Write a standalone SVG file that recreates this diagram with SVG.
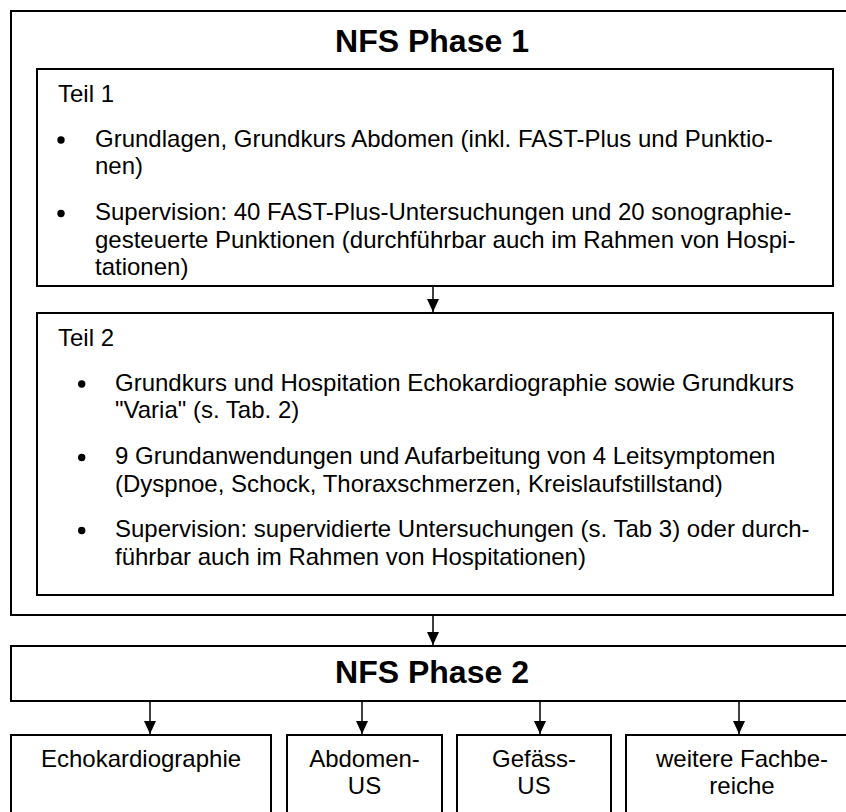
<svg xmlns="http://www.w3.org/2000/svg" width="846" height="812" viewBox="0 0 846 812">
<defs>
<style>
.box{fill:#fff;stroke:#000;stroke-width:2}
.t{font-family:"Liberation Sans",Arial,sans-serif;font-size:24px;fill:#000}
.h{font-family:"Liberation Sans",Arial,sans-serif;font-size:32px;font-weight:bold;fill:#000}
.c{text-anchor:middle}
.ln{stroke:#000;stroke-width:1.5;fill:none}
.dot{fill:#000}
</style>
<marker id="ah" markerWidth="13" markerHeight="12" refX="13" refY="6" orient="auto" markerUnits="userSpaceOnUse" viewBox="0 0 13 12">
<path d="M0,0 L13,6 L0,12 Z" fill="#000"/>
</marker>
</defs>
<rect width="846" height="812" fill="#fff"/>
<g id="phase1">
<rect class="box" x="11" y="11" width="860" height="604"/>
<text class="h c" x="432" y="52">NFS Phase 1</text>
</g>
<g id="teil1">
<rect class="box" x="37" y="69" width="796" height="217"/>
<text class="t" x="58" y="101.5">Teil 1</text>
<circle class="dot" cx="61" cy="140" r="3.7"/>
<text class="t" x="95" y="146.5">Grundlagen, Grundkurs Abdomen (inkl. FAST-Plus und Punktio-</text>
<text class="t" x="95" y="174">nen)</text>
<circle class="dot" cx="61" cy="213.5" r="3.7"/>
<text class="t" x="95" y="220">Supervision: 40 FAST-Plus-Untersuchungen und 20 sonographie-</text>
<text class="t" x="95" y="247.5">gesteuerte Punktionen (durchführbar auch im Rahmen von Hospi-</text>
<text class="t" x="95" y="275">tationen)</text>
</g>
<g id="teil2">
<rect class="box" x="37" y="313" width="796" height="282"/>
<text class="t" x="58" y="346">Teil 2</text>
<circle class="dot" cx="81.7" cy="384" r="3.7"/>
<text class="t" x="115" y="390.5">Grundkurs und Hospitation Echokardiographie sowie Grundkurs</text>
<text class="t" x="115" y="418">"Varia" (s. Tab. 2)</text>
<circle class="dot" cx="81.7" cy="457.5" r="3.7"/>
<text class="t" x="115" y="464">9 Grundanwendungen und Aufarbeitung von 4 Leitsymptomen</text>
<text class="t" x="115" y="491.5">(Dyspnoe, Schock, Thoraxschmerzen, Kreislaufstillstand)</text>
<circle class="dot" cx="81.7" cy="530.5" r="3.7"/>
<text class="t" x="115" y="537">Supervision: supervidierte Untersuchungen (s. Tab 3) oder durch-</text>
<text class="t" x="115" y="565">führbar auch im Rahmen von Hospitationen)</text>
</g>
<g id="phase2">
<rect class="box" x="11" y="646" width="860" height="55"/>
<text class="h c" x="432" y="683">NFS Phase 2</text>
</g>
<g id="echo">
<rect class="box" x="11" y="735" width="260" height="100"/>
<text class="t c" x="141" y="767">Echokardiographie</text>
</g>
<g id="abdomen">
<rect class="box" x="287" y="735" width="155" height="100"/>
<text class="t c" x="364.5" y="767">Abdomen-</text>
<text class="t c" x="364.5" y="794">US</text>
</g>
<g id="gefaess">
<rect class="box" x="457" y="735" width="154" height="100"/>
<text class="t c" x="534" y="767">Gefäss-</text>
<text class="t c" x="534" y="794">US</text>
</g>
<g id="weitere">
<rect class="box" x="626" y="735" width="240" height="100"/>
<text class="t c" x="742" y="767">weitere Fachbe-</text>
<text class="t c" x="742" y="794">reiche</text>
</g>
<g id="connectors">
<line class="ln" x1="433" y1="287" x2="433" y2="312" marker-end="url(#ah)"/>
<line class="ln" x1="433" y1="616" x2="433" y2="645" marker-end="url(#ah)"/>
<line class="ln" x1="150" y1="702" x2="150" y2="734" marker-end="url(#ah)"/>
<line class="ln" x1="362" y1="702" x2="362" y2="734" marker-end="url(#ah)"/>
<line class="ln" x1="540" y1="702" x2="540" y2="734" marker-end="url(#ah)"/>
<line class="ln" x1="739" y1="702" x2="739" y2="734" marker-end="url(#ah)"/>
</g>
</svg>
